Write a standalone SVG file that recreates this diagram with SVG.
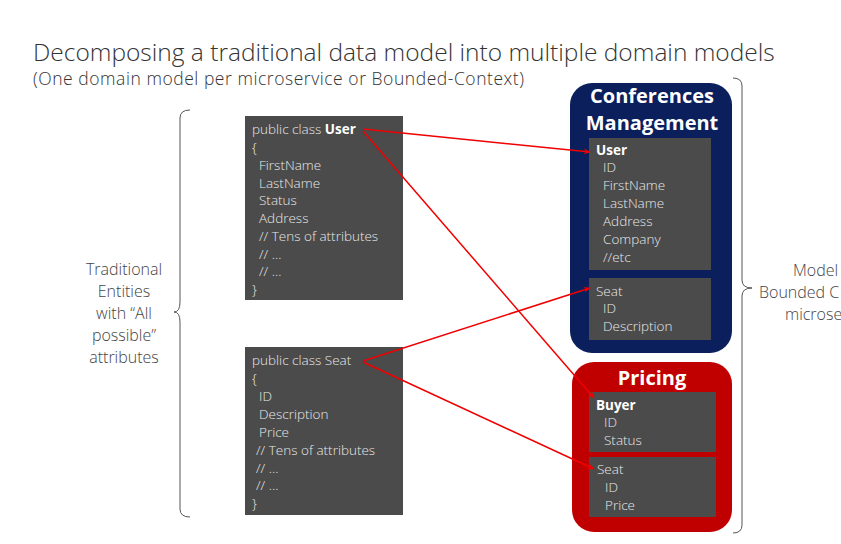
<svg xmlns="http://www.w3.org/2000/svg" width="841" height="544" viewBox="0 0 841 544">
<defs>
<style>
.t{font-family:"Open Sans","Liberation Sans",sans-serif;}
.lt{font-weight:300;fill:#333;}
.code{font-size:13.5px;fill:#e8e8e8;font-family:"Open Sans","Liberation Sans",sans-serif;font-weight:300;}
.b{font-weight:700;fill:#fff;}
.box{fill:#4b4b4b;}
.hdr{font-size:20px;font-weight:700;fill:#fff;font-family:"Open Sans","Liberation Sans",sans-serif;text-anchor:middle;}
.brace{fill:none;stroke:#555;stroke-width:1;}
.lbl{font-size:16px;font-weight:300;fill:#444;font-family:"Open Sans","Liberation Sans",sans-serif;text-anchor:middle;}
.lbs{font-size:16px;font-weight:300;fill:#444;font-family:"Open Sans","Liberation Sans",sans-serif;text-anchor:start;}
.conn{stroke:#f00000;stroke-width:1.5;fill:none;marker-end:url(#ah);}
</style>
<marker id="ah" viewBox="0 0 10 10" refX="9" refY="5" markerWidth="7" markerHeight="7" orient="auto" markerUnits="userSpaceOnUse">
<path d="M0,1 L10,5 L0,9 L3,5 Z" fill="#f00000"/>
</marker>
</defs>
<rect width="841" height="544" fill="#fff"/>
<g id="title">
<text class="t lt" x="33" y="61" font-size="24.5">Decomposing a traditional data model into multiple domain models</text>
<text class="t lt" x="33" y="85" font-size="17.5" textLength="491" lengthAdjust="spacing">(One domain model per microservice or Bounded-Context)</text>
</g>
<g id="left-brace">
<path class="brace" d="M190,110 Q180,110 180,118 L180,302 Q180,312 174,312 Q180,312 180,322 L180,509 Q180,517 190,517"/>
<text class="lbl" x="124" y="275">Traditional</text>
<text class="lbl" x="124" y="297">Entities</text>
<text class="lbl" x="124" y="319">with “All</text>
<text class="lbl" x="124" y="341">possible”</text>
<text class="lbl" x="124" y="363">attributes</text>
</g>
<g id="class-user">
<rect class="box" x="245" y="116" width="158" height="184"/>
<text class="code" x="252" y="134">public class <tspan class="b">User</tspan></text>
<text class="code" x="252" y="152">{</text>
<text class="code" x="259" y="170">FirstName</text>
<text class="code" x="259" y="188">LastName</text>
<text class="code" x="259" y="205">Status</text>
<text class="code" x="259" y="223">Address</text>
<text class="code" x="259" y="241">// Tens of attributes</text>
<text class="code" x="259" y="259">// ...</text>
<text class="code" x="259" y="276">// ...</text>
<text class="code" x="252" y="294">}</text>
</g>
<g id="class-seat">
<rect class="box" x="245" y="347" width="158" height="168"/>
<text class="code" x="252" y="365">public class Seat</text>
<text class="code" x="252" y="383">{</text>
<text class="code" x="259" y="401">ID</text>
<text class="code" x="259" y="419">Description</text>
<text class="code" x="259" y="437">Price</text>
<text class="code" x="256" y="455">// Tens of attributes</text>
<text class="code" x="256" y="473">// ...</text>
<text class="code" x="256" y="490">// ...</text>
<text class="code" x="252" y="508">}</text>
</g>
<g id="conferences-management">
<rect x="570" y="83" width="162" height="270" rx="22" fill="#0b1f5c"/>
<text class="hdr" x="652" y="103">Conferences</text>
<text class="hdr" x="652" y="130">Management</text>
<g id="cm-user">
<rect class="box" x="589" y="138" width="122" height="132"/>
<text class="code b" x="596" y="155">User</text>
<text class="code" x="603" y="172">ID</text>
<text class="code" x="603" y="190">FirstName</text>
<text class="code" x="603" y="208">LastName</text>
<text class="code" x="603" y="226">Address</text>
<text class="code" x="603" y="244">Company</text>
<text class="code" x="603" y="262">//etc</text>
</g>
<g id="cm-seat">
<rect class="box" x="589" y="278" width="122" height="62"/>
<text class="code" x="596" y="296">Seat</text>
<text class="code" x="603" y="313">ID</text>
<text class="code" x="603" y="331">Description</text>
</g>
</g>
<g id="pricing">
<rect x="572" y="362" width="160" height="170" rx="22" fill="#c00000"/>
<text class="hdr" x="652" y="385">Pricing</text>
<g id="pr-buyer">
<rect class="box" x="589" y="392" width="127" height="60"/>
<text class="code b" x="596" y="410">Buyer</text>
<text class="code" x="604" y="427">ID</text>
<text class="code" x="604" y="445">Status</text>
</g>
<g id="pr-seat">
<rect class="box" x="589" y="457" width="127" height="60"/>
<text class="code" x="597" y="474">Seat</text>
<text class="code" x="605" y="492">ID</text>
<text class="code" x="605" y="510">Price</text>
</g>
</g>
<g id="right-brace">
<path class="brace" d="M733,78 Q742,78 742,86 L742,280 Q742,288 752,288 Q742,288 742,296 L742,525 Q742,533 733,533"/>
<text class="lbs" x="793" y="276">Model</text>
<text class="lbs" x="759" y="298">Bounded C</text>
<text class="lbs" x="785" y="320">microse</text>
</g>
<g id="connectors">
<path class="conn" d="M363,129 L590,152"/>
<path class="conn" d="M363,131 L594,398"/>
<path class="conn" d="M363,361 L590,288"/>
<path class="conn" d="M363,362 L594,469"/>
</g>
</svg>
